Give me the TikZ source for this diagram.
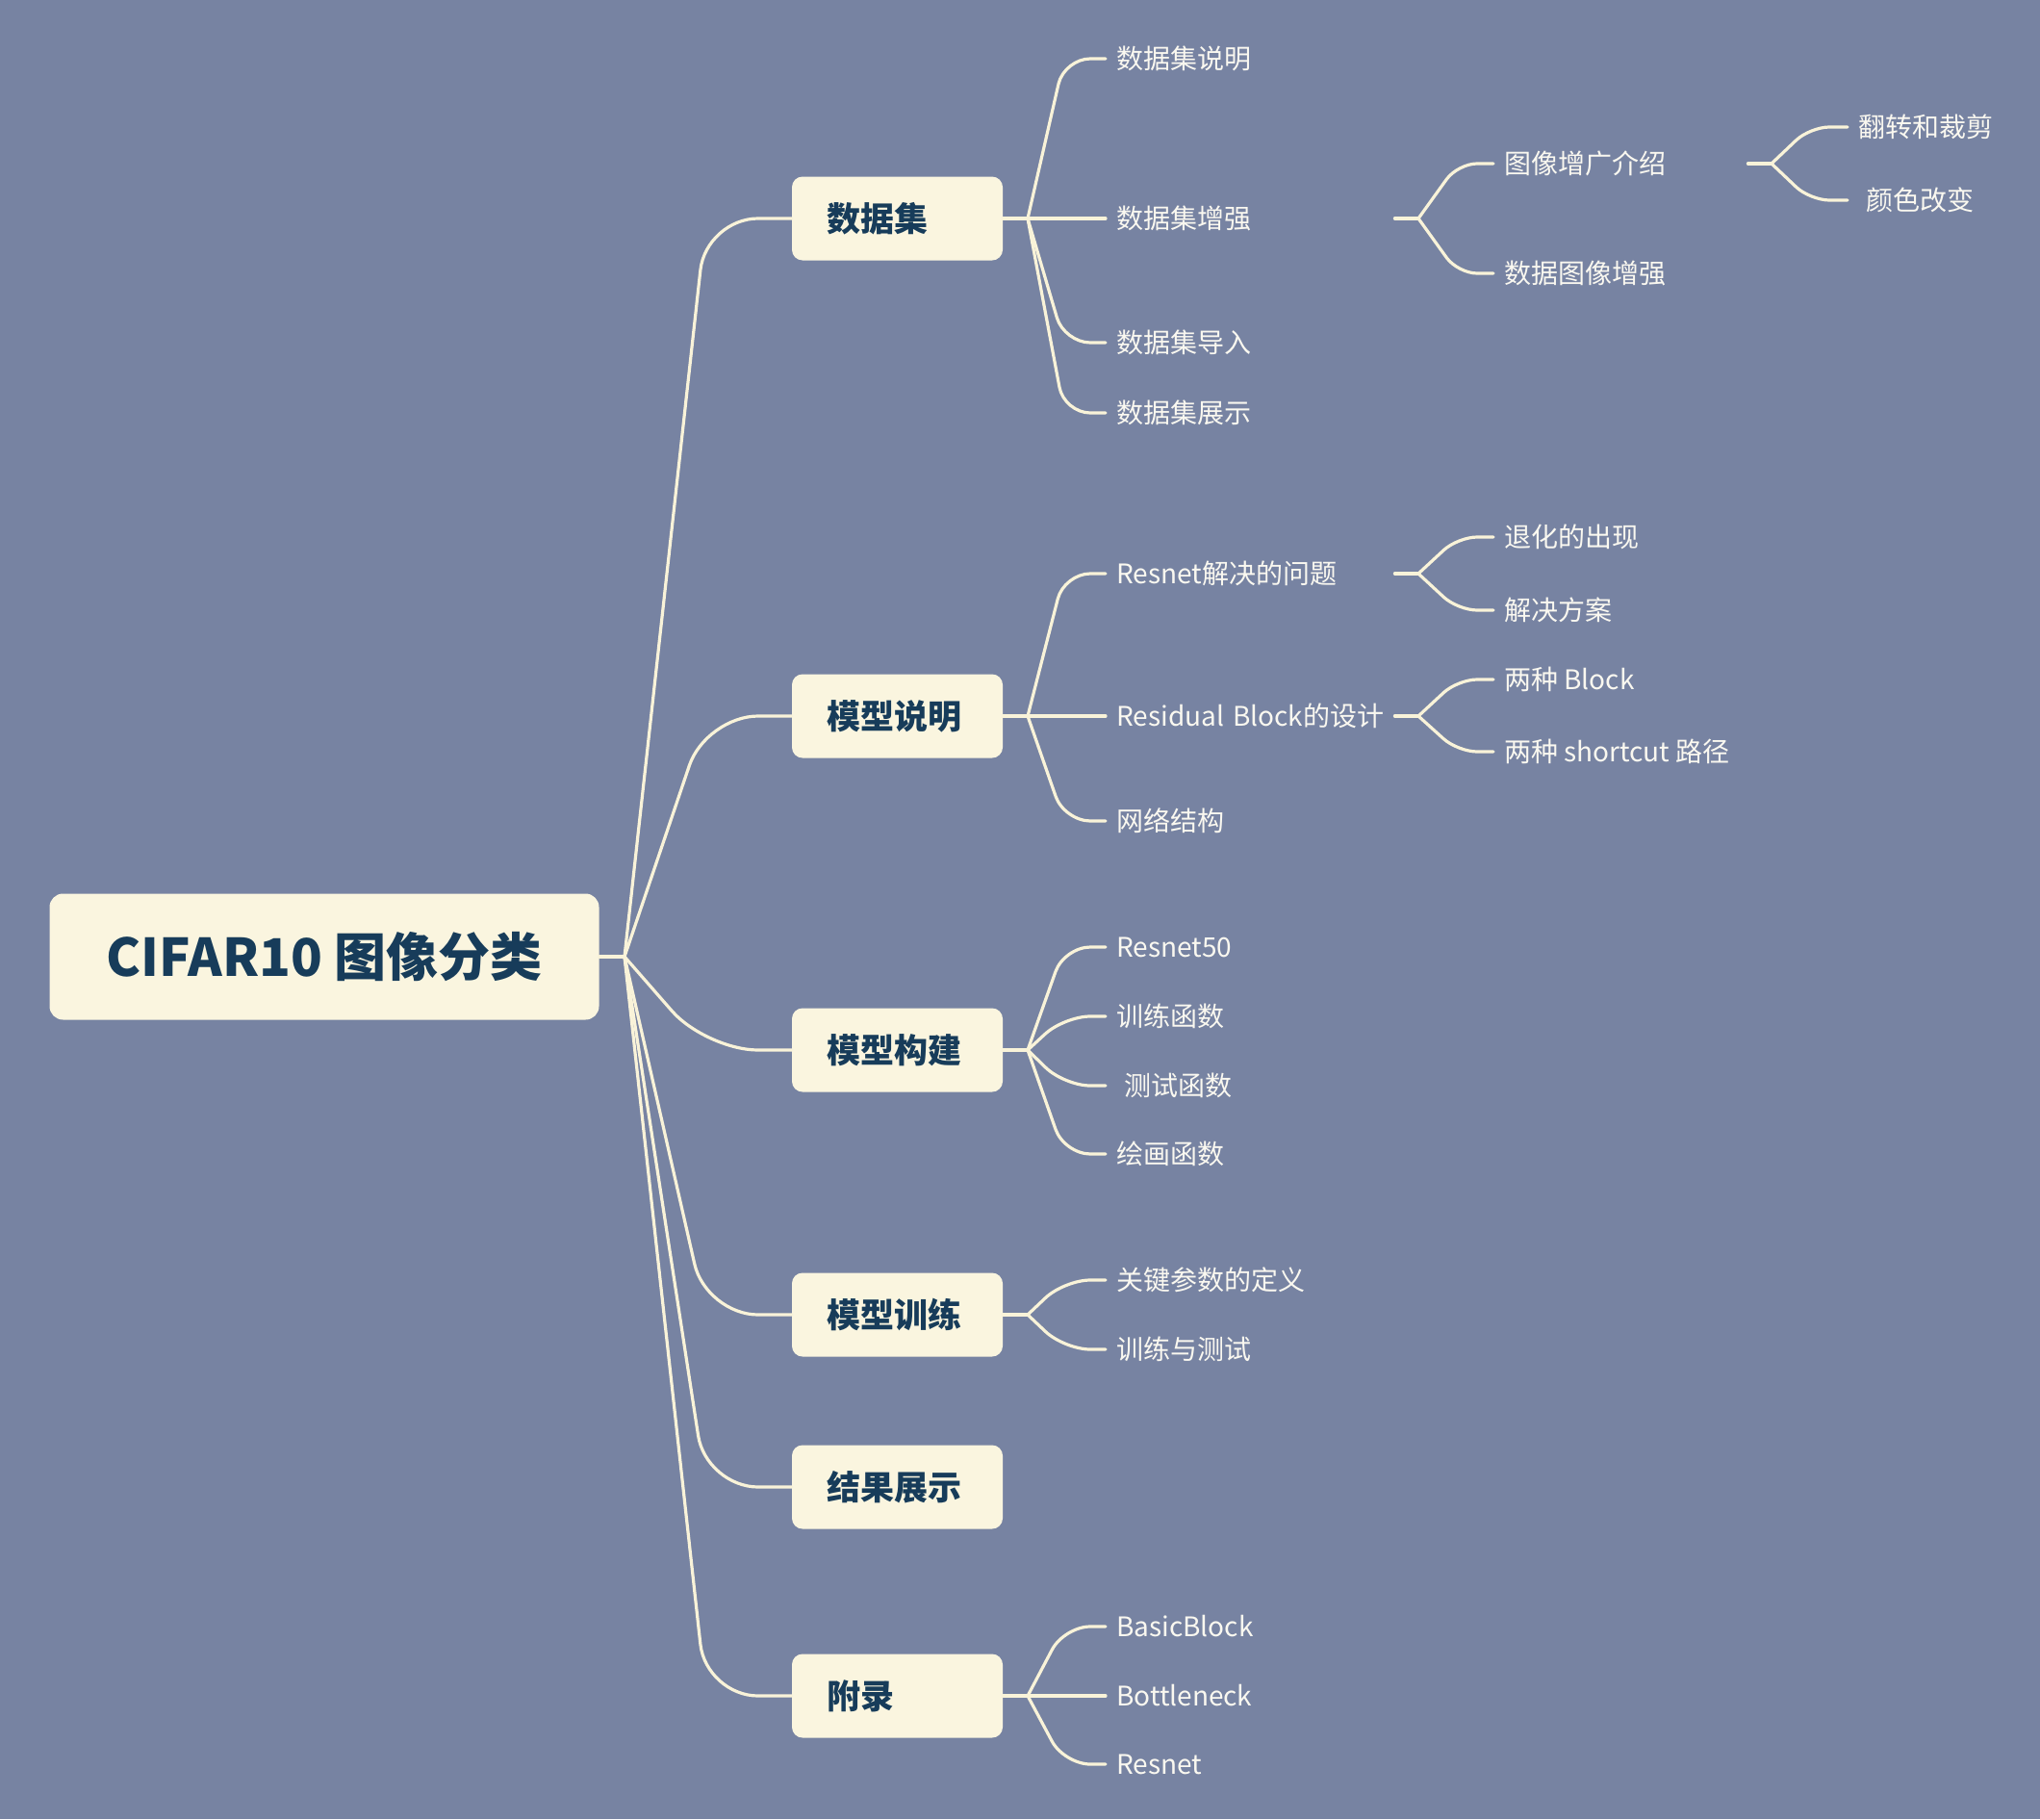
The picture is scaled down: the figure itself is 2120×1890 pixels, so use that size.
\documentclass[tikz,border=0pt]{standalone}
\usepackage{fontspec}
\newfontfamily\cjkfont{Noto Sans CJK SC}
\usepackage{tikz}
\usetikzlibrary{positioning}

\definecolor{bgblue}{HTML}{7783A2}
\definecolor{boxcream}{HTML}{FAF5DF}
\definecolor{linecream}{HTML}{F9F3D9}
\definecolor{navy}{HTML}{173C5A}
\definecolor{leafwhite}{HTML}{FAF8F0}

\begin{document}
\begin{tikzpicture}[
			x=1pt, y=-1pt,
			rootbox/.style={rectangle, fill=boxcream, rounded corners=14pt, minimum width=571pt, minimum height=131pt, text=navy, font=\cjkfont\bfseries\fontsize{54}{62}\selectfont},
			topic/.style={rectangle, fill=boxcream, rounded corners=11pt, minimum width=219pt, minimum height=87pt, inner xsep=36pt, text width=147pt, align=left, text=navy, font=\cjkfont\bfseries\fontsize{35}{42}\selectfont},
			leaf/.style={anchor=west, inner xsep=11pt, inner ysep=2pt, text=leafwhite, font=\cjkfont\fontsize{28}{34}\selectfont},
			link/.style={draw=linecream, line width=3.2pt, line cap=round},
			trunk/.style={link, rounded corners=54pt},
			twig/.style={link, rounded corners=27pt},
			sprig/.style={link, rounded corners=20pt}
			]
			
			\fill[bgblue] (0,0) rectangle (2120,1890);
			\useasboundingbox (0,0) rectangle (2120,1890);
			
			% Nodes
			\node[rootbox] (root) at (337,994) {CIFAR10 图像分类};
			
			\node[topic] (ds) at (932.5,227) {数据集};
			\node[topic] (ms) at (932.5,744) {模型说明};
			\node[topic] (mb) at (932.5,1091) {模型构建};
			\node[topic] (mt) at (932.5,1366) {模型训练};
			\node[topic] (rs) at (932.5,1545) {结果展示};
			\node[topic] (ap) at (932.5,1762) {附录};
			
			\node[leaf] (ds1) at (1149,61) {数据集说明};
			\node[leaf, text width=278pt] (ds2) at (1149,227) {\mbox{数据集增强}};
			\node[leaf] (ds3) at (1149,356) {数据集导入};
			\node[leaf] (ds4) at (1149,429) {数据集展示};
			
			\node[leaf, text width=278pt] (ms1) at (1149,596) {\mbox{Resnet解决的问题}};
			\node[leaf, text width=278pt] (ms2) at (1149,744) {\mbox{Residual Block的设计}};
			\node[leaf] (ms3) at (1149,853) {网络结构};
			
			\node[leaf] (mb1) at (1149,984) {Resnet50};
			\node[leaf] (mb2) at (1149,1056) {训练函数};
			\node[leaf] (mb3) at (1149,1128) {\hspace*{8pt}测试函数};
			\node[leaf] (mb4) at (1149,1199) {绘画函数};
			
			\node[leaf] (mt1) at (1149,1330) {关键参数的定义};
			\node[leaf] (mt2) at (1149,1402) {训练与测试};
			
			\node[leaf] (ap1) at (1149,1690) {BasicBlock};
			\node[leaf] (ap2) at (1149,1762) {Bottleneck};
			\node[leaf] (ap3) at (1149,1833) {Resnet};
			
			\node[leaf, text width=242pt] (aug1) at (1552,170) {\mbox{图像增广介绍}};
			\node[leaf] (aug2) at (1552,284) {数据图像增强};
			\node[leaf] (rp1) at (1552,558) {退化的出现};
			\node[leaf] (rp2) at (1552,634) {解决方案};
			\node[leaf] (rb1) at (1552,706) {两种 Block};
			\node[leaf] (rb2) at (1552,781) {两种 shortcut 路径};
			
			\node[leaf] (aug11) at (1920,132) {翻转和裁剪};
			\node[leaf] (aug12) at (1920,208) {\hspace*{8pt}颜色改变};
			
			% Forks
			\coordinate (rootfork) at (649,994);
			\coordinate (dsfork) at (1068,227);
			\coordinate (msfork) at (1068,744);
			\coordinate (mbfork) at (1068,1091);
			\coordinate (mtfork) at (1068,1366);
			\coordinate (apfork) at (1068,1762);
			\coordinate (ds2fork) at (1474,227);
			\coordinate (ms1fork) at (1474,596);
			\coordinate (ms2fork) at (1474,744);
			\coordinate (aug1fork) at (1841,170);
			
			% Root to topics
			\draw[link] (root.east) -- (rootfork);
			\foreach \t in {ds,ms,mb,mt,rs,ap}
				\draw[trunk] (rootfork) -- ([xshift=-89pt]\t.west) -- (\t.west);
			
			% Topics to leaves
			\foreach \t in {ds,ms,mb,mt,ap}
				\draw[link] (\t.east) -- (\t fork);
			\foreach \f/\l in {dsfork/ds1, dsfork/ds2, dsfork/ds3, dsfork/ds4,
				msfork/ms1, msfork/ms2, msfork/ms3,
				mbfork/mb1, mbfork/mb2, mbfork/mb3, mbfork/mb4,
				mtfork/mt1, mtfork/mt2,
				apfork/ap1, apfork/ap2, apfork/ap3}
				\draw[twig] (\f) -- ([xshift=-43pt]\l.west) -- (\l.west);
			
			% Deeper levels
			\draw[link] (ds2.east) -- (ds2fork);
			\draw[link] (ms1.east) -- (ms1fork);
			\draw[link] (ms2.east) -- (ms2fork);
			\foreach \f/\l in {ds2fork/aug1, ds2fork/aug2, ms1fork/rp1, ms1fork/rp2, ms2fork/rb1, ms2fork/rb2}
				\draw[sprig] (\f) -- ([xshift=-37pt]\l.west) -- (\l.west);
			
			\draw[link] (aug1.east) -- (aug1fork);
			\foreach \l in {aug11, aug12}
				\draw[sprig] (aug1fork) -- ([xshift=-39pt]\l.west) -- (\l.west);
			
		\end{tikzpicture}
\end{document}
